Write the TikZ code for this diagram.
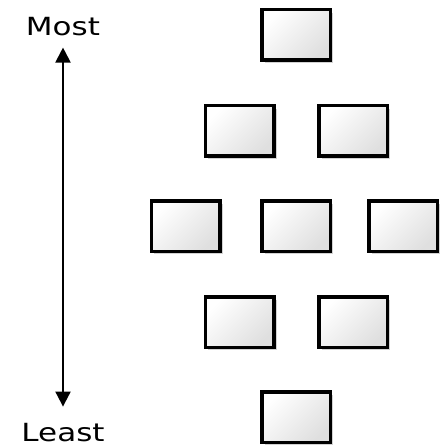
\documentclass[tikz,border=0pt]{standalone}
\usepackage{fontspec}
\usetikzlibrary{arrows.meta, shadows, shadings}
\newfontfamily\pixfont[FakeStretch=1.24]{DejaVu Sans}
\tikzstyle{rankbox} = [rectangle, draw=black, line width=3.5pt, minimum width=68.5pt, minimum height=50.5pt, top color=white, middle color=white, bottom color=gray!25, shading angle=45, drop shadow={shadow xshift=3pt, shadow yshift=-3pt, fill=gray!35, opacity=1}]
\tikzstyle{label} = [font=\pixfont\fontsize{25}{25}\selectfont, anchor=base, inner sep=0pt]
\tikzstyle{arrow} = [{Triangle[length=15pt, width=15pt]}-{Triangle[length=15pt, width=15pt]}, line width=2pt]

\begin{document}
\begin{tikzpicture}[x=1pt, y=-1pt]
    \useasboundingbox (0,0) rectangle (439,446);
    % Labels
    \node[label] (most) at (63,36) {Most};
    \node[label] (least) at (63,441) {Least};

    % Row 1
    \node[rankbox] (b11) at (296,35) {};
    % Row 2
    \node[rankbox] (b21) at (239.5,131) {};
    \node[rankbox] (b22) at (353,131) {};
    % Row 3
    \node[rankbox] (b31) at (185.5,226) {};
    \node[rankbox] (b32) at (296,226) {};
    \node[rankbox] (b33) at (403,226) {};
    % Row 4
    \node[rankbox] (b41) at (239.5,322) {};
    \node[rankbox] (b42) at (353,322) {};
    % Row 5
    \node[rankbox] (b51) at (296,417) {};

    % Arrow
    \draw[arrow, shorten <=11pt, shorten >=16pt] (most) -- (least);
\end{tikzpicture}
\end{document}
